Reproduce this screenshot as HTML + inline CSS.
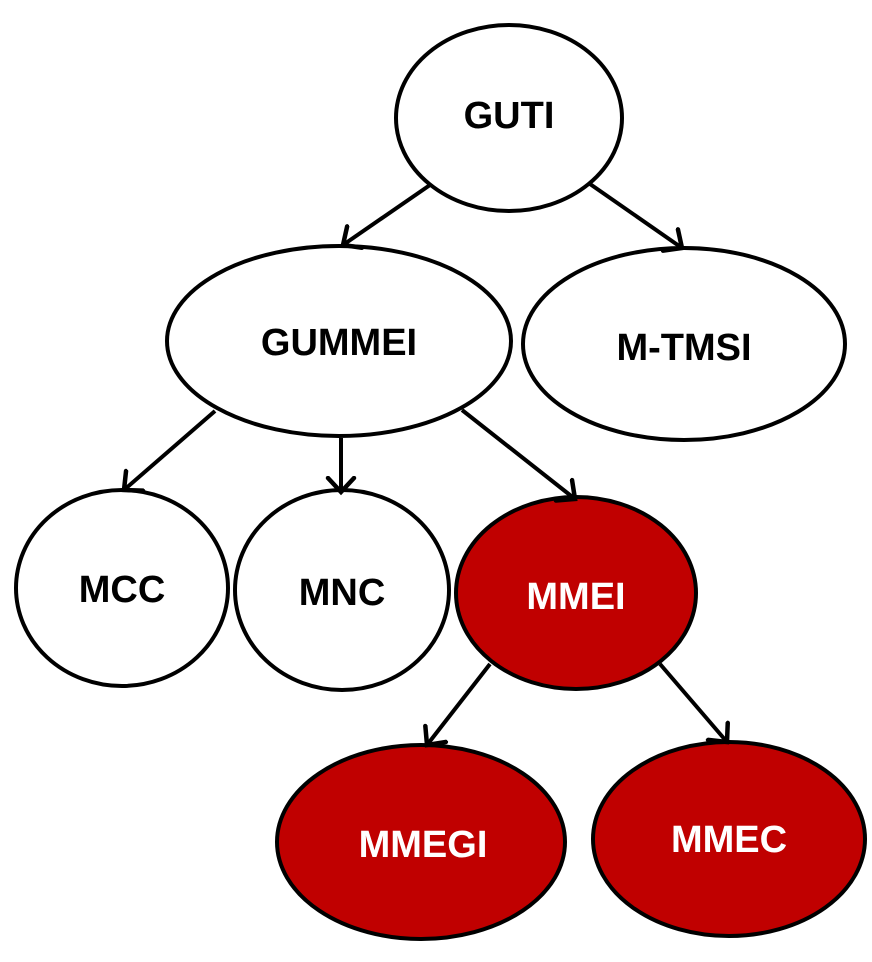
<!DOCTYPE html>
<html><head><style>body{margin:0;background:#fff}svg{display:block}text{font-family:"Liberation Sans",sans-serif;font-weight:bold;font-size:38px;text-anchor:middle;dominant-baseline:central}</style></head>
<body>
<svg width="872" height="962" viewBox="0 0 872 962">
<defs><marker id="a" markerWidth="22" markerHeight="32" refX="16" refY="16" orient="auto" markerUnits="userSpaceOnUse" viewBox="0 0 22 32"><path d="M2,3 L16,16 L2,29" fill="none" stroke="#000" stroke-width="4.5" stroke-linecap="round" stroke-linejoin="miter"/></marker></defs>
<g stroke="#000" stroke-width="4">
<ellipse cx="509" cy="118" rx="113" ry="93" fill="#fff"/>
<ellipse cx="339" cy="341" rx="172" ry="95" fill="#fff"/>
<ellipse cx="684" cy="344" rx="161" ry="96" fill="#fff"/>
<ellipse cx="122" cy="588" rx="106" ry="98" fill="#fff"/>
<ellipse cx="342" cy="590" rx="107" ry="100" fill="#fff"/>
<ellipse cx="576" cy="593" rx="120" ry="96" fill="#c00000"/>
<ellipse cx="421" cy="842" rx="144" ry="97" fill="#c00000"/>
<ellipse cx="729" cy="839" rx="136" ry="97" fill="#c00000"/>
</g>
<g stroke="#000" stroke-width="4" fill="none">
<line x1="430" y1="185" x2="343" y2="245" marker-end="url(#a)"/>
<line x1="590" y1="184" x2="682" y2="248" marker-end="url(#a)"/>
<line x1="215" y1="411" x2="124" y2="490" marker-end="url(#a)"/>
<line x1="341" y1="438" x2="341" y2="492" marker-end="url(#a)"/>
<line x1="462" y1="410" x2="575" y2="499" marker-end="url(#a)"/>
<line x1="490" y1="664" x2="427" y2="745" marker-end="url(#a)"/>
<line x1="660" y1="664" x2="727" y2="742" marker-end="url(#a)"/>
</g>
<text x="509" y="116">GUTI</text>
<text x="339" y="343">GUMMEI</text>
<text x="684" y="348">M-TMSI</text>
<text x="122" y="590">MCC</text>
<text x="342" y="593">MNC</text>
<text x="576" y="597" fill="#fff">MMEI</text>
<text x="423" y="845" fill="#fff">MMEGI</text>
<text x="729" y="840" fill="#fff">MMEC</text>
</svg>
</body></html>
